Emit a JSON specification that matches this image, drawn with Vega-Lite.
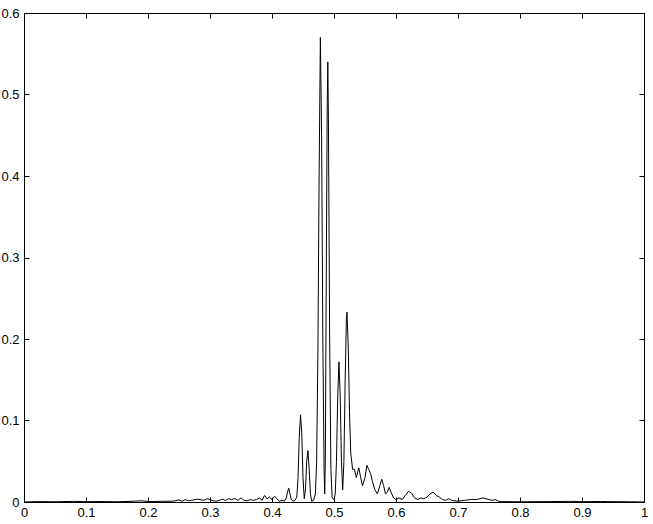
{
  "$schema": "https://vega.github.io/schema/vega-lite/v6.json",
  "autosize": {"type": "none"},
  "padding": {"left": 24, "top": 13, "right": 9, "bottom": 22},
  "width": 620,
  "height": 489,
  "background": "white",
  "config": {
    "view": {"stroke": "black", "strokeWidth": 1},
    "axis": {"grid": false, "domainColor": "black", "tickColor": "black", "labelColor": "black", "labelFont": "Liberation Sans", "labelFontSize": 13, "tickSize": -5, "domainWidth": 1, "tickWidth": 1}
  },
  "data": {"values": [
    {"f":0,"p":0},{"f":0.02,"p":0.0005},{"f":0.05,"p":0.0003},{"f":0.08,"p":0.0008},{"f":0.1,"p":0.0004},{"f":0.12,"p":0.0006},{"f":0.15,"p":0.0003},{"f":0.18,"p":0.001},{"f":0.19,"p":0.0015},{"f":0.2,"p":0.0005},{"f":0.22,"p":0.0008},{"f":0.24,"p":0.001},{"f":0.25,"p":0.0025},{"f":0.255,"p":0.001},{"f":0.26,"p":0.003},{"f":0.265,"p":0.0015},{"f":0.27,"p":0.002},{"f":0.28,"p":0.0035},{"f":0.29,"p":0.002},{"f":0.295,"p":0.004},{"f":0.3,"p":0.003},{"f":0.305,"p":0.0015},{"f":0.31,"p":0.001},{"f":0.315,"p":0.002},{"f":0.32,"p":0.0035},{"f":0.325,"p":0.002},{"f":0.33,"p":0.004},{"f":0.335,"p":0.003},{"f":0.34,"p":0.0045},{"f":0.345,"p":0.002},{"f":0.35,"p":0.005},{"f":0.355,"p":0.002},{"f":0.36,"p":0.0015},{"f":0.365,"p":0.003},{"f":0.37,"p":0.002},{"f":0.375,"p":0.003},{"f":0.38,"p":0.005},{"f":0.384,"p":0.002},{"f":0.388,"p":0.008},{"f":0.392,"p":0.004},{"f":0.396,"p":0.006},{"f":0.4,"p":0.003},{"f":0.404,"p":0.007},{"f":0.408,"p":0.004},{"f":0.412,"p":0.001},{"f":0.416,"p":0.002},{"f":0.42,"p":0.001},{"f":0.423,"p":0.005},{"f":0.425,"p":0.012},{"f":0.427,"p":0.017},{"f":0.429,"p":0.01},{"f":0.431,"p":0.003},{"f":0.434,"p":0.001},{"f":0.437,"p":0.002},{"f":0.44,"p":0.006},{"f":0.442,"p":0.03},{"f":0.444,"p":0.08},{"f":0.446,"p":0.107},{"f":0.448,"p":0.085},{"f":0.45,"p":0.03},{"f":0.452,"p":0.004},{"f":0.454,"p":0.015},{"f":0.456,"p":0.05},{"f":0.458,"p":0.063},{"f":0.46,"p":0.04},{"f":0.462,"p":0.01},{"f":0.464,"p":0.001},{"f":0.467,"p":0.002},{"f":0.47,"p":0.01},{"f":0.472,"p":0.05},{"f":0.474,"p":0.18},{"f":0.476,"p":0.4},{"f":0.478,"p":0.57},{"f":0.48,"p":0.45},{"f":0.482,"p":0.2},{"f":0.484,"p":0.04},{"f":0.485,"p":0.01},{"f":0.486,"p":0.05},{"f":0.487,"p":0.2},{"f":0.489,"p":0.48},{"f":0.49,"p":0.54},{"f":0.491,"p":0.47},{"f":0.493,"p":0.2},{"f":0.495,"p":0.04},{"f":0.497,"p":0.005},{"f":0.5,"p":0.003},{"f":0.502,"p":0.01},{"f":0.504,"p":0.05},{"f":0.506,"p":0.13},{"f":0.508,"p":0.172},{"f":0.51,"p":0.13},{"f":0.512,"p":0.05},{"f":0.514,"p":0.015},{"f":0.516,"p":0.05},{"f":0.518,"p":0.15},{"f":0.52,"p":0.225},{"f":0.521,"p":0.233},{"f":0.523,"p":0.19},{"f":0.525,"p":0.11},{"f":0.527,"p":0.06},{"f":0.53,"p":0.04},{"f":0.533,"p":0.04},{"f":0.536,"p":0.03},{"f":0.54,"p":0.042},{"f":0.543,"p":0.03},{"f":0.546,"p":0.02},{"f":0.55,"p":0.03},{"f":0.553,"p":0.045},{"f":0.556,"p":0.04},{"f":0.559,"p":0.035},{"f":0.562,"p":0.025},{"f":0.566,"p":0.015},{"f":0.57,"p":0.01},{"f":0.574,"p":0.02},{"f":0.577,"p":0.028},{"f":0.58,"p":0.02},{"f":0.583,"p":0.01},{"f":0.586,"p":0.012},{"f":0.589,"p":0.018},{"f":0.592,"p":0.012},{"f":0.596,"p":0.005},{"f":0.6,"p":0.003},{"f":0.605,"p":0.005},{"f":0.61,"p":0.003},{"f":0.615,"p":0.008},{"f":0.62,"p":0.013},{"f":0.625,"p":0.011},{"f":0.63,"p":0.005},{"f":0.635,"p":0.003},{"f":0.64,"p":0.005},{"f":0.645,"p":0.004},{"f":0.65,"p":0.006},{"f":0.655,"p":0.01},{"f":0.66,"p":0.012},{"f":0.665,"p":0.008},{"f":0.67,"p":0.006},{"f":0.675,"p":0.003},{"f":0.68,"p":0.002},{"f":0.685,"p":0.004},{"f":0.69,"p":0.002},{"f":0.7,"p":0.001},{"f":0.71,"p":0.002},{"f":0.72,"p":0.003},{"f":0.73,"p":0.003},{"f":0.74,"p":0.005},{"f":0.745,"p":0.004},{"f":0.75,"p":0.003},{"f":0.755,"p":0.002},{"f":0.76,"p":0.003},{"f":0.765,"p":0.001},{"f":0.77,"p":0.0005},{"f":0.8,"p":0.0003},{"f":0.85,"p":0.0005},{"f":0.88,"p":0.0008},{"f":0.9,"p":0.0004},{"f":0.93,"p":0.0006},{"f":0.95,"p":0.0004},{"f":0.98,"p":0.0003},{"f":1,"p":0}
  ]},
  "resolve": {"axis": {"x": "independent", "y": "independent"}},
  "layer": [
    {
      "mark": {"type": "line", "color": "black", "strokeWidth": 1},
      "encoding": {
        "x": {"field": "f", "type": "quantitative", "scale": {"domain": [0, 1], "nice": false, "zero": false}, "axis": {"orient": "bottom", "title": null, "values": [0,0.1,0.2,0.3,0.4,0.5,0.6,0.7,0.8,0.9,1], "format": "~g", "labelPadding": 9, "labelFlush": false}},
        "y": {"field": "p", "type": "quantitative", "scale": {"domain": [0, 0.6], "nice": false}, "axis": {"orient": "left", "title": null, "values": [0,0.1,0.2,0.3,0.4,0.5,0.6], "format": "~g", "labelPadding": 10, "labelFlush": false}}
      }
    },
    {
      "mark": {"type": "line", "opacity": 0},
      "encoding": {
        "x": {"field": "f", "type": "quantitative", "axis": {"orient": "top", "title": null, "values": [0,0.1,0.2,0.3,0.4,0.5,0.6,0.7,0.8,0.9,1], "labels": false}},
        "y": {"field": "p", "type": "quantitative", "axis": {"orient": "right", "title": null, "values": [0,0.1,0.2,0.3,0.4,0.5,0.6], "labels": false}}
      }
    }
  ]
}
